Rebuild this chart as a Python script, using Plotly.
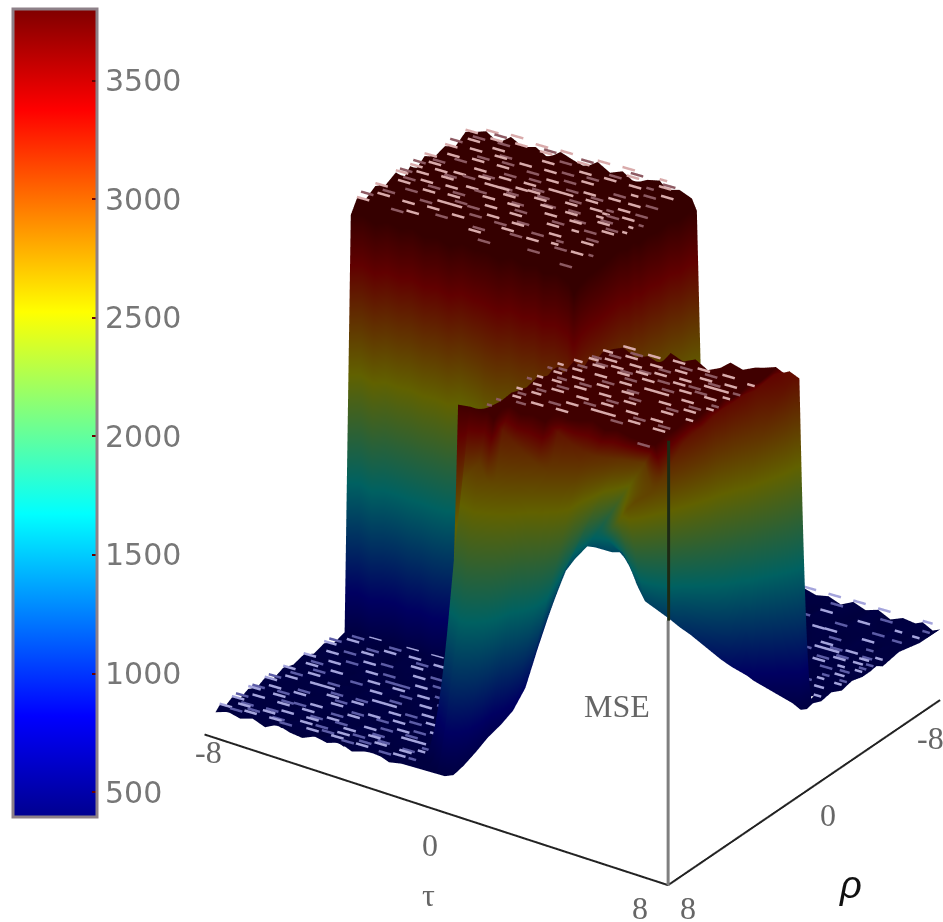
import plotly.graph_objects as go

tau_nodes = [-8,-7.5,-7,-6.5,-6,-5.5,-5,-4.5,-4,-3.5,-3,-2.5,-2,-1.5,-1,-.5,-.2,.3,.8,1.0,1.25,1.6,2,2.5,3,3.5,4,4.5,5,5.5,6,6.5,7,7.3,7.7,8]
rho_nodes = [-8,-7,-6,-5.2,-4.9,-4.6,-4.2,-3.7,-3.2,-2.7,-2.2,-1.8,-1.5,-1.2,-.8,-.3,.2,.7,1.1,1.4,1.7,2.2,2.7,3.2,3.7,4.2,4.7,5.2,5.6,6,6.4,6.8,7.2,7.5,7.8,8]

H = [500]*20
mse = [
H+[470,530,455,540,490,525,460,545,480,535,450,520,495,540,465,510],
H+[530,460,545,480,520,450,540,495,465,530,510,455,545,470,525,490],
H+[455,540,490,465,545,510,470,525,540,460,495,545,450,520,480,535],
H+[540,475,520,545,460,490,535,455,510,545,470,525,490,455,540,470],
H+[480,530,455,500,540,465,525,490,450,530,545,470,510,540,460,525],
[3700,3760,3650,3780,3690,3740,3640,3770,3710,3660,3780,3680,3750,3640,3730,3770,3670,3720,3650,3500,530,460,520,480,545,500,455,540,475,510,460,535,490,545,470,500],
[3770,3660,3740,3650,3790,3680,3760,3700,3640,3780,3690,3730,3660,3790,3680,3650,3760,3690,3740,3560,470,540,490,455,520,545,480,460,530,495,540,465,525,455,540,490],
[3650,3780,3700,3760,3640,3730,3690,3780,3720,3650,3760,3640,3790,3700,3750,3680,3640,3770,3680,3520,545,480,525,540,460,500,530,475,455,540,490,520,470,535,460,520],
[3740,3680,3790,3640,3750,3670,3780,3650,3760,3700,3640,3780,3680,3730,3650,3790,3700,3660,3760,3580,490,520,460,500,540,470,455,545,500,480,530,460,540,490,525,470],
[3680,3750,3640,3770,3700,3790,3650,3730,3660,3790,3710,3670,3760,3640,3780,3690,3750,3650,3710,3540,535,455,540,475,510,545,490,465,530,545,470,500,455,540,480,530],
[3770,3640,3730,3680,3780,3640,3760,3690,3780,3650,3740,3790,3650,3760,3690,3640,3780,3720,3660,3570,460,530,485,545,465,500,540,520,470,490,545,530,480,460,535,490],
[3660,3790,3680,3750,3650,3770,3700,3640,3740,3780,3660,3700,3770,3680,3790,3740,3660,3790,3700,3530,525,470,540,490,530,455,480,545,500,540,465,490,540,510,470,530],
[3750,3680,3770,3640,3730,3690,3790,3760,3650,3700,3790,3640,3730,3650,3710,3770,3640,3700,3760,3590,480,540,465,520,500,545,470,530,460,520,490,545,3000,3260,3240,500],
[3640,3760,3690,3790,3680,3750,3640,3700,3790,3660,3730,3770,3680,3790,3640,3690,3780,3660,3740,3550,535,480,525,460,545,490,530,465,515,520,3000,3280,3340,3290,3260,540],
[3780,3670,3740,3650,3770,3640,3730,3780,3680,3760,3650,3700,3790,3640,3760,3700,3650,3770,3690,3600,470,530,500,545,465,520,480,540,3000,3320,3270,3350,3290,3340,3230,620],
[3690,3790,3650,3760,3700,3780,3660,3640,3770,3690,3780,3650,3720,3770,3680,3790,3730,3640,3750,3560,545,490,460,530,3000,3340,3270,3350,3250,3330,3280,3350,3260,3310,3150,720],
[3760,3650,3730,3690,3640,3740,3790,3700,3660,3790,3640,3750,3680,3640,3780,3660,3700,3790,3660,3520,500,3290,3350,3260,3330,3270,3345,3255,3320,3260,3350,3280,3320,3270,3000,820],
[3650,3780,3700,3770,3680,3790,3650,3760,3720,3650,3700,3780,3650,3750,3690,3770,3640,3740,3700,3500,500,3340,3250,3350,3270,3320,3260,3350,3280,3340,3255,3320,3260,3310,2800,920],
[3740,3660,3780,3640,3750,3690,3730,3640,3780,3740,3670,3640,3790,3700,3650,3730,3780,3660,3620,3450,500,3260,3320,3270,3350,3250,3330,3280,3345,3260,3320,3350,3270,3290,2600,1000],
[3560,3610,3540,3620,3570,3630,3550,3600,3530,3620,3580,3600,3540,3630,3560,3610,3530,3590,3500,3350,500,3350,3260,3330,3250,3340,3290,3260,3350,3310,3250,3280,3340,3280,2450,1070],
[520,470,540,490,455,530,480,545,500,460,525,475,540,490,450,530,500,480,500,500,3340,3260,3345,3280,3320,3255,3350,3300,3250,3340,3290,3345,3260,3290,2300,1130],
[460,540,495,455,525,480,545,470,530,500,455,540,485,460,545,505,470,520,3260,3320,3260,3330,3270,3350,3260,3340,3250,3320,3350,3270,3330,3250,3320,3260,2150,1230],
[535,480,450,545,500,465,520,545,480,455,530,490,545,510,470,480,540,500,3220,3280,3350,3255,3340,3260,3345,3280,3320,3260,3280,3350,3255,3340,3280,3240,2050,1340],
[475,545,510,470,540,490,455,505,540,520,470,545,460,500,535,465,490,530,3250,3340,3270,3320,3250,3350,3290,3330,3250,3345,3270,3310,3350,3270,3340,3230,1950,1460],
[545,460,530,490,475,545,510,470,455,545,490,465,530,475,545,500,520,470,3210,3290,3345,3260,3350,3270,3320,3260,3350,3280,3330,3260,3320,3255,3300,3200,1900,1580],
[490,525,470,540,510,455,530,490,545,470,530,505,455,545,490,460,500,3000,3280,3320,3260,3350,3280,3250,3345,3270,3320,3350,3255,3340,3270,3330,3300,3100,1900,1700],
[530,465,545,480,450,520,475,545,500,460,490,540,510,470,530,490,500,3100,3250,3300,3350,3260,3330,3280,3340,3260,3290,3345,3260,3310,3265,3250,3250,3000,2000,1810],
[455,540,490,525,545,470,510,460,530,545,475,455,530,490,460,540,3000,3200,3260,3300,3290,3340,3270,3310,3260,3220,3160,3120,3110,3120,3140,3155,3170,2950,2150,1930],
[540,480,520,460,495,535,455,545,480,510,540,490,465,545,500,475,3250,3270,3260,3280,3230,3160,3095,3020,2960,2915,2880,2880,2920,2980,3045,3080,3110,2950,2280,2020],
[470,530,455,545,515,480,540,490,465,530,455,545,505,470,530,490,500,2700,2850,2900,2780,2720,2680,2645,2620,2605,2600,2635,2730,2840,2950,3005,3050,2950,2400,2110],
[525,490,540,470,455,530,500,460,545,480,520,470,540,455,490,530,500,2100,2300,2400,2320,2290,2270,2270,2285,2295,2325,2395,2545,2700,2850,2930,2990,2930,2480,2200],
[460,545,480,530,490,545,465,525,470,500,545,460,485,530,545,470,500,1400,1750,1900,1870,1850,1860,1900,1945,1990,2045,2155,2355,2555,2755,2855,2930,2880,2560,2380],
[540,470,520,455,540,480,530,455,510,545,470,530,460,500,465,530,500,700,1200,1420,1410,1420,1450,1520,1610,1680,1770,1915,2165,2415,2655,2780,2870,2840,2660,2600],
[480,530,465,545,470,510,545,490,455,530,500,465,545,480,530,460,500,500,750,1060,1070,1090,1140,1240,1355,1450,1555,1730,2025,2305,2585,2720,2830,2800,2740,2720],
[535,460,540,490,525,465,500,545,475,540,455,530,490,465,540,500,500,500,500,700,730,770,835,960,1100,1215,1350,1550,1885,2200,2510,2660,2790,2775,2760,2750],
[470,525,480,530,460,545,485,460,530,490,545,470,520,540,470,500,500,500,500,500,500,550,630,775,930,1060,1210,1430,1790,2130,2460,2625,2760,2770,2770,2770],
]

edge_colour_by_tau = [500,520,550,600,640,700,760,850,950,1150,1400,1500,1550]
edge_colour_by_rho = [500,520,570,620,670,720,770,800,840,900,960,1030,1100,1170,1240,1300,1340,1380,1410,1440,1460,1470,1470,1450]

colour = [list(r) for r in mse]
PLATEAU = 3300
TOP_COLOUR = 3760
for i in range(26, 36):
    for k, j in enumerate(range(20, 33)):
        if mse[i][j] < PLATEAU:
            f = (PLATEAU - edge_colour_by_tau[k]) / (PLATEAU - mse[35][j])
            colour[i][j] = PLATEAU - (PLATEAU - mse[i][j]) * f
for k, i in enumerate(range(12, 36)):
    f = (PLATEAU - edge_colour_by_rho[k]) / (PLATEAU - mse[i][35])
    for j in (33, 34, 35):
        if mse[i][j] < PLATEAU:
            colour[i][j] = PLATEAU - (PLATEAU - mse[i][j]) * f

WALL_FOOT = 1800
BACK_LIFT = 340
RELIEF = .6
shown = [list(r) for r in mse]
for i, rho in enumerate(rho_nodes):
    for j, tau in enumerate(tau_nodes):
        v = mse[i][j]
        if v <= 600:
            # the reference shows no floor under the raised block: blank it
            u = 24.75 * tau - 20.5 * rho
            if rho > 1.5 and u > -98:
                shown[i][j] = WALL_FOOT if i == 20 else None
            elif rho <= 1.5 and u < (190 if rho <= -2.2 else 222):
                shown[i][j] = WALL_FOOT if (j == 20 and 5 <= i <= 19) else None
            else:
                shown[i][j] = 500 + (v - 500) * RELIEF
            if shown[i][j] == WALL_FOOT:
                colour[i][j] = WALL_FOOT
        elif 5 <= i <= 19 and j <= 19:
            shown[i][j] = 3715 + BACK_LIFT + (v - 3715) * RELIEF
            colour[i][j] = TOP_COLOUR
        elif 3250 <= v <= 3350:
            shown[i][j] = PLATEAU + (v - PLATEAU) * RELIEF
            if j <= 32 and i <= 28:
                colour[i][j] = TOP_COLOUR - 100
        elif v >= 3200 and j <= 21 and 20 <= i <= 28:
            colour[i][j] = TOP_COLOUR - 100

# scene x carries rho, scene y carries tau
mse_t = [list(c) for c in zip(*shown)]
colour_t = [list(c) for c in zip(*colour)]

# glints: short streaks along tau at the relief's high and low nodes
def add_streak(store, t0, t1, r, z):
    store["y"] += [t0, t1, None]
    store["x"] += [r, r, None]
    store["z"] += [z, z, None]

glints = {k: dict(x=[], y=[], z=[]) for k in ("top_bright", "top_dim", "floor_bright", "floor_dim")}
for i in range(35):
    for j in range(35):
        v = mse[i][j]
        corners = [shown[i][j], shown[i][j+1], shown[i+1][j], shown[i+1][j+1]]
        if None in corners or WALL_FOOT in corners or max(corners) - min(corners) > 130:
            continue
        z = max(corners) + 12
        if v <= 600:
            hi, lo, kind = v >= 525, v <= 470, "floor"
        elif 5 <= i <= 18 and j <= 18:
            hi, lo, kind = v >= 3740, v <= 3670, "top"
        elif 16 <= i <= 28 and 18 <= j <= 32 and 3250 <= v <= 3350:
            hi, lo, kind = v >= 3320, v <= 3265, "top"
        else:
            continue
        if hi:
            add_streak(glints[kind + "_bright"], tau_nodes[j], tau_nodes[j+1], rho_nodes[i], z)
        elif lo:
            add_streak(glints[kind + "_dim"], tau_nodes[j], tau_nodes[j+1], (rho_nodes[i] + rho_nodes[i+1]) / 2, z)

jet = [[0, "rgb(0,0,143)"], [.125, "rgb(0,0,255)"], [.375, "rgb(0,255,255)"],
       [.625, "rgb(255,255,0)"], [.875, "rgb(255,0,0)"], [1, "rgb(128,0,0)"]]
colorbar_ticks = [500, 1000, 1500, 2000, 2500, 3000, 3500]

W, Hpx = 943, 922

fig = go.Figure()
fig.add_trace(go.Surface(
    x=rho_nodes, y=tau_nodes, z=mse_t, surfacecolor=colour_t,
    colorscale=jet, cmin=395, cmax=3802, hoverinfo="skip",
    lighting=dict(ambient=.38, diffuse=0.0, specular=0.0, roughness=.5, fresnel=.2),
    colorbar=dict(
        x=13/W, xanchor="left", xpad=0, y=1-413/Hpx, yanchor="middle", ypad=0,
        thickness=84, len=808, lenmode="pixels",
        outlinewidth=3, outlinecolor="#8d8088",
        tickvals=colorbar_ticks, ticks="inside", ticklen=6, tickcolor="#600", tickwidth=2,
        tickfont=dict(family="DejaVu Sans", size=30, color="#777"), ticklabelposition="outside"),
))

glint_style = {"top_bright": "#d9abab", "top_dim": "#8d5a62", "floor_bright": "#a4a4dc", "floor_dim": "#5c5ca6"}
for k, g in glints.items():
    fig.add_trace(go.Scatter3d(mode="lines", line=dict(color=glint_style[k], width=5), hoverinfo="skip", showlegend=False, connectgaps=False, **g))

tau_axis = dict(y=[-10.7, 8], x=[5.27, 5.27], z=[-141, -283])
rho_axis = dict(y=[8, 8], x=[5.27, -8], z=[-283, -83])
mse_low = dict(y=[8, 8], x=[5.27, 5.27], z=[-283, 1925])
mse_high = dict(y=[8.02, 8.02], x=[5.27, 5.27], z=[1925, 3425])
for ax, col, w in [(tau_axis, "#222", 4), (rho_axis, "#222", 4), (mse_low, "#808080", 6), (mse_high, "#1c2a14", 6)]:
    fig.add_trace(go.Scatter3d(mode="lines", line=dict(color=col, width=w), hoverinfo="skip", showlegend=False, **ax))

labels = [("-8", 208, 752), ("0", 430, 845), ("8", 640, 908), ("8", 688, 908), ("0", 828, 815), ("-8", 930, 738), ("τ", 428, 895), ("MSE", 617, 706)]
ann = [dict(text=t, x=x/W, y=1-y/Hpx, xref="paper", yref="paper", showarrow=False, xanchor="center", yanchor="middle",
            font=dict(family="Liberation Serif", size=32, color="#666")) for t, x, y in labels]
ann.append(dict(text="<i>ρ</i>", x=850/W, y=1-885/Hpx, xref="paper", yref="paper", showarrow=False, xanchor="center", yanchor="middle",
                font=dict(family="Liberation Sans", size=38, color="#111")))

hidden = dict(visible=False)
fig.update_layout(
    width=W, height=Hpx, margin=dict(l=0, r=0, t=0, b=0), paper_bgcolor="white", showlegend=False,
    annotations=ann,
    scene=dict(
        domain=dict(x=[.1728, 1], y=[0, .874]),
        yaxis=dict(range=[-11, 9], **hidden), xaxis=dict(range=[-9, 9], **hidden), zaxis=dict(range=[-800, 4202], **hidden),
        aspectmode="manual", aspectratio=dict(y=1.5, x=1.6, z=1.634),
        camera=dict(projection=dict(type="orthographic"), eye=dict(x=1.088, y=.759, z=.602), up=dict(x=0, y=0, z=1), center=dict(x=0, y=0, z=0)),
    ),
)
fig.write_html("out.html", post_script="document.body.style.margin='0';", config=dict(displayModeBar=False))
